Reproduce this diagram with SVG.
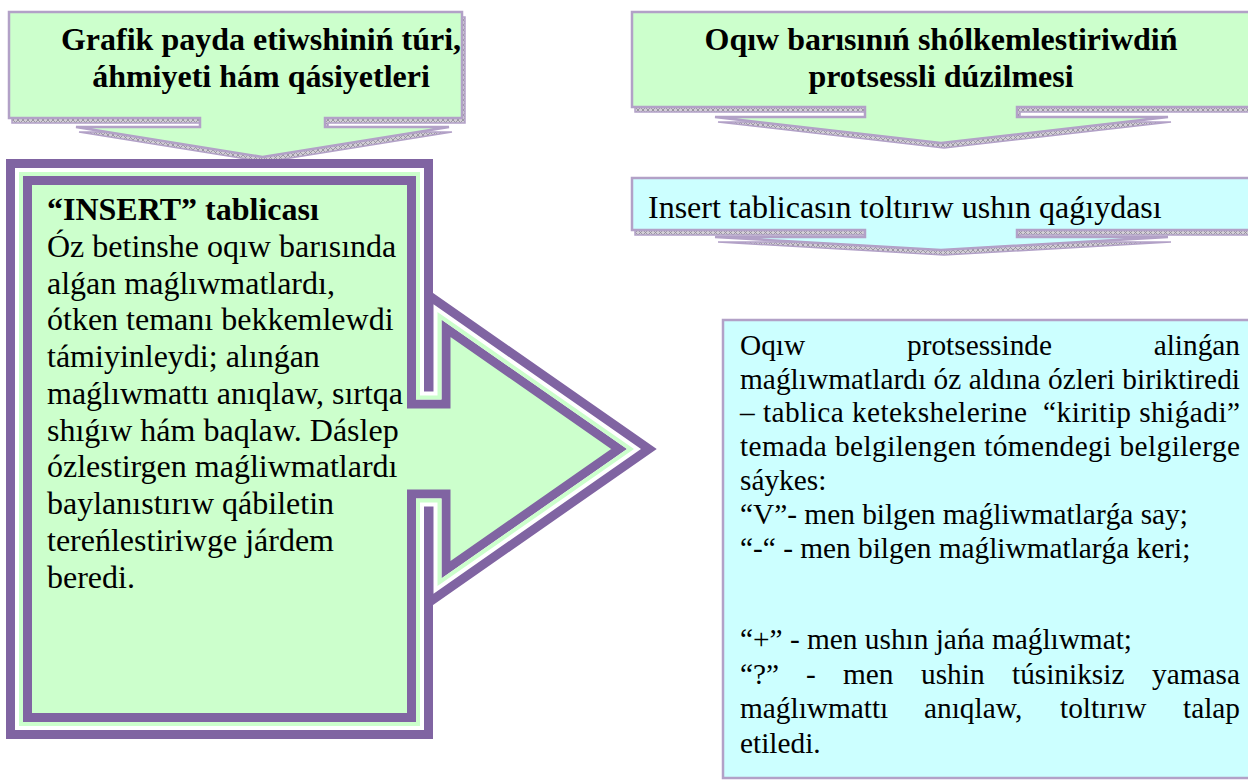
<svg xmlns="http://www.w3.org/2000/svg" width="1248" height="780" viewBox="0 0 1248 780">
<defs>
  <pattern id="hatch" width="5" height="5" patternUnits="userSpaceOnUse">
    <rect width="5" height="5" fill="#d2ced6"/>
    <path d="M0,0 L5,5 M5,0 L0,5" stroke="#8c8894" stroke-width="0.8"/>
  </pattern>
  <path id="calloutPath" d="M19,172 H420 V395.5 H437.5 V312 L634,449 L437.5,586 V502.5 H420 V726 H19 Z"/>
  <clipPath id="calloutClip"><use href="#calloutPath"/></clipPath>
</defs>
<style>
  .hdr{fill:#CCFFCC;stroke:#B2A1C7;stroke-width:2.5}
  .bar{fill:#CCFFFF;stroke:#B2A1C7;stroke-width:2.5}
  .shadow{fill:url(#hatch);stroke:#B2A1C7;stroke-width:1.5}
  .bold{font-family:"Liberation Serif","Times New Roman",serif;font-weight:bold;font-size:32px;fill:#000}
  .body{font-family:"Liberation Serif","Times New Roman",serif;font-size:32px;fill:#000}
  .small{font-family:"Liberation Serif","Times New Roman",serif;font-size:29.33px;fill:#000}
</style>
<rect width="1248" height="780" fill="#ffffff"/>

<g id="connectors"></g>

<g id="header-left">
  <path class="shadow" transform="translate(3,5)" d="M9,12 H462 V118 H325 V127 H449 L262.5,157 L76,127 H200 V118 H9 Z"/>
  <path class="hdr" d="M9,12 H462 V118 H325 V127 H449 L262.5,157 L76,127 H200 V118 H9 Z"/>
  <text class="bold" x="261" y="50" text-anchor="middle">Grafik payda etiwshiniń túri,</text>
  <text class="bold" x="261" y="87" text-anchor="middle">áhmiyeti hám qásiyetleri</text>
</g>

<g id="header-right">
  <path class="shadow" transform="translate(3,5)" d="M632,12 H1252 V107 H1017 V117 H1168 L941,143 L715,117 H865 V107 H632 Z"/>
  <path class="hdr" d="M632,12 H1252 V107 H1017 V117 H1168 L941,143 L715,117 H865 V107 H632 Z"/>
  <text class="bold" x="941" y="50" text-anchor="middle">Oqıw barısınıń shólkemlestiriwdiń</text>
  <text class="bold" x="941" y="87" text-anchor="middle">protsessli dúzilmesi</text>
</g>

<g id="insert-rule-bar">
  <path class="shadow" transform="translate(3,5)" d="M632,178 H1252 V230 H1017 V237 H1168 L941,250 L715,237 H865 V230 H632 Z"/>
  <path class="bar" d="M632,178 H1252 V230 H1017 V237 H1168 L941,250 L715,237 H865 V230 H632 Z"/>
  <text class="body" x="648" y="218">Insert tablicasın toltırıw ushın qaǵıydası</text>
</g>

<g id="insert-callout">
  <use href="#calloutPath" fill="#CCFFCC" stroke="#8064A2" stroke-width="26" stroke-linejoin="miter" stroke-miterlimit="10"/>
  <use href="#calloutPath" fill="none" stroke="#ffffff" stroke-width="8" stroke-linejoin="miter" stroke-miterlimit="10"/>
  <use href="#calloutPath" fill="none" stroke="#CCFFCC" stroke-width="8" stroke-linejoin="miter" stroke-miterlimit="10" clip-path="url(#calloutClip)"/>
  <text class="bold" x="47" y="220">“INSERT” tablicası</text>
  <text class="body" x="47" y="256.8">Óz betinshe oqıw barısında</text>
  <text class="body" x="47" y="293.5">alǵan maǵlıwmatlardı,</text>
  <text class="body" x="47" y="330.3">ótken temanı bekkemlewdi</text>
  <text class="body" x="47" y="367">támiyinleydi; alınǵan</text>
  <text class="body" x="47" y="403.8">maǵlıwmattı anıqlaw, sırtqa</text>
  <text class="body" x="47" y="440.5">shıǵıw hám baqlaw. Dáslep</text>
  <text class="body" x="47" y="477.3">ózlestirgen maǵliwmatlardı</text>
  <text class="body" x="47" y="514">baylanıstırıw qábiletin</text>
  <text class="body" x="47" y="550.8">tereńlestiriwge járdem</text>
  <text class="body" x="47" y="587.5">beredi.</text>
</g>

<g id="rules-box">
  <rect class="bar" x="723" y="320" width="530" height="458"/>
  <text class="small" x="740" y="354.7">Oqıw</text>
  <text class="small" x="907" y="354.7">protsessinde</text>
  <text class="small" x="1240" y="354.7" text-anchor="end">alinǵan</text>
  <text class="small" x="740" y="388.5" textLength="500" lengthAdjust="spacing">maǵlıwmatlardı óz aldına ózleri biriktiredi</text>
  <text class="small" x="740" y="422.3" textLength="500" lengthAdjust="spacing" xml:space="preserve">– tablica ketekshelerine  “kiritip shiǵadi”</text>
  <text class="small" x="740" y="456.1" textLength="500" lengthAdjust="spacing">temada belgilengen tómendegi belgilerge</text>
  <text class="small" x="740" y="490">sáykes:</text>
  <text class="small" x="740" y="523.8">“V”- men bilgen maǵliwmatlarǵa say;</text>
  <text class="small" x="740" y="557.6">“-“ - men bilgen maǵliwmatlarǵa keri;</text>
  <text class="small" x="740" y="649">“+” - men ushın jańa maǵlıwmat;</text>
  <text class="small" x="740" y="683.5">“?”</text>
  <text class="small" x="806" y="683.5">-</text>
  <text class="small" x="843" y="683.5">men</text>
  <text class="small" x="921" y="683.5">ushin</text>
  <text class="small" x="1012" y="683.5">túsiniksiz</text>
  <text class="small" x="1240" y="683.5" text-anchor="end">yamasa</text>
  <text class="small" x="740" y="718">maǵlıwmattı</text>
  <text class="small" x="924" y="718">anıqlaw,</text>
  <text class="small" x="1060" y="718">toltırıw</text>
  <text class="small" x="1240" y="718" text-anchor="end">talap</text>
  <text class="small" x="740" y="752.5">etiledi.</text>
</g>
</svg>
